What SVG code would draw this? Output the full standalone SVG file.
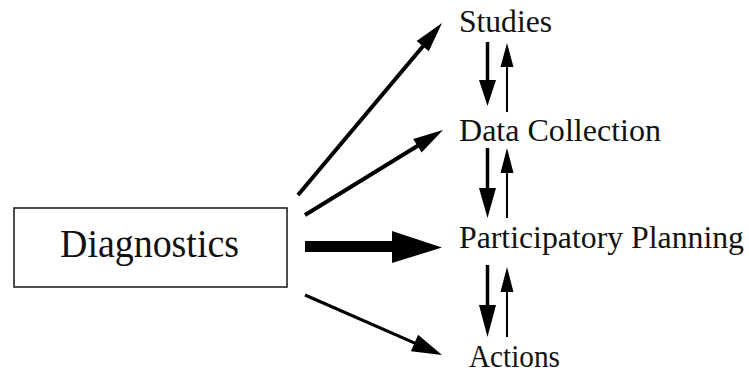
<svg xmlns="http://www.w3.org/2000/svg" width="749" height="381" viewBox="0 0 749 381">
  <style>
    .lbl { fill: #111; font-family: "Liberation Serif", "DejaVu Serif", serif; }
    .box { fill: #fff; stroke: #222; stroke-width: 1.6; }
    .shaft { stroke: #000; fill: none; stroke-linecap: butt; }
    .head { fill: #000; }
  </style>
  <rect width="749" height="381" fill="#fff"/>

  <g id="diagnostics">
    <rect class="box" x="14" y="208" width="273" height="79"/>
    <text class="lbl" x="60" y="257" font-size="41" textLength="179" lengthAdjust="spacingAndGlyphs">Diagnostics</text>
  </g>

  <g id="studies">
    <text class="lbl" x="459" y="32" font-size="31" textLength="93" lengthAdjust="spacingAndGlyphs">Studies</text>
  </g>
  <g id="data-collection">
    <text class="lbl" x="459" y="141" font-size="31" textLength="202" lengthAdjust="spacingAndGlyphs">Data Collection</text>
  </g>
  <g id="participatory-planning">
    <text class="lbl" x="459" y="248" font-size="31" textLength="285" lengthAdjust="spacingAndGlyphs">Participatory Planning</text>
  </g>
  <g id="actions">
    <text class="lbl" x="469" y="367" font-size="31" textLength="91" lengthAdjust="spacingAndGlyphs">Actions</text>
  </g>

  <g id="connectors">
    <!-- Diagnostics -> Studies -->
    <line class="shaft" x1="298" y1="195" x2="424" y2="45" stroke-width="4"/>
    <polygon class="head" points="442,23 428.8,51.2 416.6,40.9"/>
    <!-- Diagnostics -> Data Collection -->
    <line class="shaft" x1="305" y1="215" x2="419" y2="145" stroke-width="4"/>
    <polygon class="head" points="443,130 421.6,152.5 413.2,138.9"/>
    <!-- Diagnostics -> Participatory Planning (heavy) -->
    <rect x="305" y="241" width="89" height="11" fill="#000"/>
    <polygon class="head" points="392,231 442,247.5 392,263"/>
    <!-- Diagnostics -> Actions -->
    <line class="shaft" x1="305" y1="295" x2="416" y2="343.6" stroke-width="3.2"/>
    <polygon class="head" points="442,355 410.9,351.2 418.1,334.8"/>

    <!-- Studies <-> Data Collection -->
    <line class="shaft" x1="487.5" y1="42" x2="487.5" y2="82" stroke-width="3.5"/>
    <polygon class="head" points="479,80 496,80 487.5,106"/>
    <line class="shaft" x1="507" y1="65" x2="507" y2="112" stroke-width="2"/>
    <polygon class="head" points="500.5,67 513.5,67 507,43"/>

    <!-- Data Collection <-> Participatory Planning -->
    <line class="shaft" x1="487.5" y1="148" x2="487.5" y2="190" stroke-width="3.5"/>
    <polygon class="head" points="479,188 496,188 487.5,218"/>
    <line class="shaft" x1="507" y1="171" x2="507" y2="218" stroke-width="2"/>
    <polygon class="head" points="500.5,173 513.5,173 507,148"/>

    <!-- Participatory Planning <-> Actions -->
    <line class="shaft" x1="487.5" y1="265" x2="487.5" y2="307" stroke-width="3.5"/>
    <polygon class="head" points="479,305 496,305 487.5,337"/>
    <line class="shaft" x1="507" y1="290" x2="507" y2="337" stroke-width="2"/>
    <polygon class="head" points="500.5,292 513.5,292 507,267"/>
  </g>
</svg>
